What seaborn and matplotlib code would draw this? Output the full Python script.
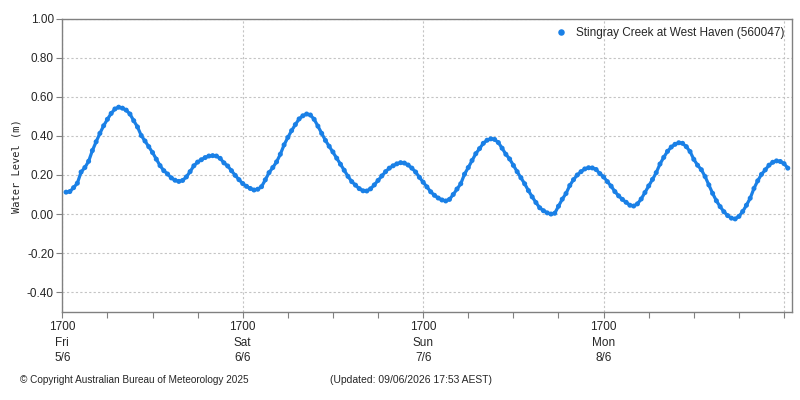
import matplotlib
matplotlib.use("Agg")
import matplotlib.pyplot as plt
import matplotlib.dates as mdates
import pandas as pd
import seaborn as sns

# ---- data: half-hourly water level (m) from Fri 5/6 17:30
first_time = "2026-06-05 17:30"
step = "30min"
levels = [
    0.112, 0.115, 0.135, 0.158, 0.215, 0.238, 0.27, 0.325, 0.37, 0.413,
    0.452, 0.485, 0.515, 0.538, 0.547, 0.542, 0.532, 0.512, 0.478, 0.446,
    0.402, 0.374, 0.345, 0.315, 0.281, 0.248, 0.222, 0.205, 0.185, 0.173,
    0.167, 0.172, 0.19, 0.217, 0.247, 0.266, 0.278, 0.289, 0.297, 0.299,
    0.297, 0.285, 0.262, 0.246, 0.222, 0.198, 0.176, 0.156, 0.142, 0.131,
    0.123, 0.127, 0.14, 0.175, 0.212, 0.238, 0.267, 0.306, 0.354, 0.392,
    0.427, 0.458, 0.487, 0.503, 0.512, 0.507, 0.485, 0.45, 0.413, 0.377,
    0.347, 0.318, 0.286, 0.255, 0.224, 0.193, 0.166, 0.148, 0.13, 0.119,
    0.118, 0.129, 0.149, 0.172, 0.195, 0.217, 0.235, 0.247, 0.257, 0.263,
    0.261, 0.251, 0.235, 0.215, 0.188, 0.163, 0.139, 0.114, 0.096, 0.082,
    0.072, 0.067, 0.075, 0.1, 0.128, 0.155, 0.204, 0.238, 0.274, 0.309,
    0.335, 0.362, 0.378, 0.385, 0.382, 0.366, 0.337, 0.306, 0.282, 0.249,
    0.217, 0.186, 0.155, 0.12, 0.088, 0.059, 0.032, 0.017, 0.006, 0.0,
    0.004, 0.04, 0.076, 0.105, 0.146, 0.176, 0.2, 0.217, 0.231, 0.237,
    0.236, 0.228, 0.207, 0.19, 0.166, 0.143, 0.115, 0.093, 0.075, 0.06,
    0.045, 0.041, 0.052, 0.077, 0.11, 0.144, 0.177, 0.212, 0.256, 0.29,
    0.321, 0.343, 0.357, 0.365, 0.362, 0.345, 0.32, 0.28, 0.25, 0.227,
    0.192, 0.149, 0.106, 0.068, 0.038, 0.012, -0.008, -0.021, -0.025, -0.012,
    0.013, 0.045, 0.081, 0.131, 0.17, 0.203, 0.226, 0.25, 0.265, 0.272,
    0.269, 0.258, 0.235,
]
series_name = "Stingray Creek at West Haven (560047)"
x_start = "2026-06-05 17:00"
x_end = "2026-06-09 18:06"
major_tick_times = ["2026-06-05 17:00", "2026-06-06 17:00", "2026-06-07 17:00",
                    "2026-06-08 17:00", "2026-06-09 17:00"]
major_tick_labels = ["1700\nFri\n5/6", "1700\nSat\n6/6", "1700\nSun\n7/6", "1700\nMon\n8/6", ""]
y_ticks = [-0.4, -0.2, 0.0, 0.2, 0.4, 0.6, 0.8, 1.0]
y_label = "Water Level (m)"
copyright_text = "\u00a9 Copyright Australian Bureau of Meteorology 2025"
updated_text = "(Updated: 09/06/2026 17:53 AEST)"

point_color = "#1a80e6"
grid_color = "#c4c4c4"
spine_color = "#808080"

sns.set_theme(style="white")
plt.rcParams['font.family'] = ['Liberation Sans', 'DejaVu Sans']

df = pd.DataFrame({
    "time": pd.date_range(start=first_time, periods=len(levels), freq=step),
    "level": levels,
    "series": series_name,
})

fig = plt.figure(figsize=(8, 4), dpi=100)
ax = fig.add_axes([62.3 / 800, 1 - 311.7 / 400, (792.3 - 62.3) / 800, (311.7 - 18.7) / 400])

sns.lineplot(data=df, x="time", y="level", color=point_color, linewidth=2.3,
             legend=False, ax=ax, zorder=2)
sns.scatterplot(data=df, x="time", y="level", hue="series", palette=[point_color],
                s=13, linewidth=0, edgecolor="none", ax=ax, zorder=3)

ax.set_xlim(pd.Timestamp(x_start), pd.Timestamp(x_end))
ax.set_ylim(-0.5, 1.0)

ax.set_xticks(pd.to_datetime(major_tick_times))
ax.set_xticklabels(major_tick_labels)
ax.xaxis.set_minor_locator(mdates.HourLocator(byhour=[23, 5, 11]))
ax.set_yticks(y_ticks)
ax.set_yticklabels([f"{v:.2f}" for v in y_ticks])

ax.tick_params(axis="x", which="major", length=4, width=0.8, color=spine_color,
               pad=3, labelsize=8.5, bottom=True)
ax.tick_params(axis="x", which="minor", length=4, width=0.8, color=spine_color, bottom=True)
ax.tick_params(axis="y", which="major", length=4, width=0.8, color=spine_color,
               pad=2, labelsize=8.5, left=True)
for lbl in ax.get_xticklabels():
    lbl.set_linespacing(1.35)

ax.grid(True, which="major", axis="both", color=grid_color, linestyle=(0, (2, 2)), linewidth=0.8)
ax.set_axisbelow(True)
for sp in ax.spines.values():
    sp.set_color(spine_color)
    sp.set_linewidth(1.0)
    sp.set_visible(True)

ax.set_xlabel("")
ax.set_ylabel("")
fig.text(17 / 800, 1 - 166 / 400, y_label, rotation=90, ha="center", va="center",
         fontsize=7.5, family=["DejaVu Sans Mono"])

leg = ax.legend(loc="upper right", frameon=False, fontsize=8.5, handletextpad=0.2,
                borderaxespad=0.3, markerscale=1.3)

fig.text(20 / 800, 1 - 380 / 400, copyright_text, ha="left", va="center", fontsize=7.2)
fig.text(330 / 800, 1 - 380 / 400, updated_text, ha="left", va="center", fontsize=7.5)

fig.savefig("out.png", dpi=100)
